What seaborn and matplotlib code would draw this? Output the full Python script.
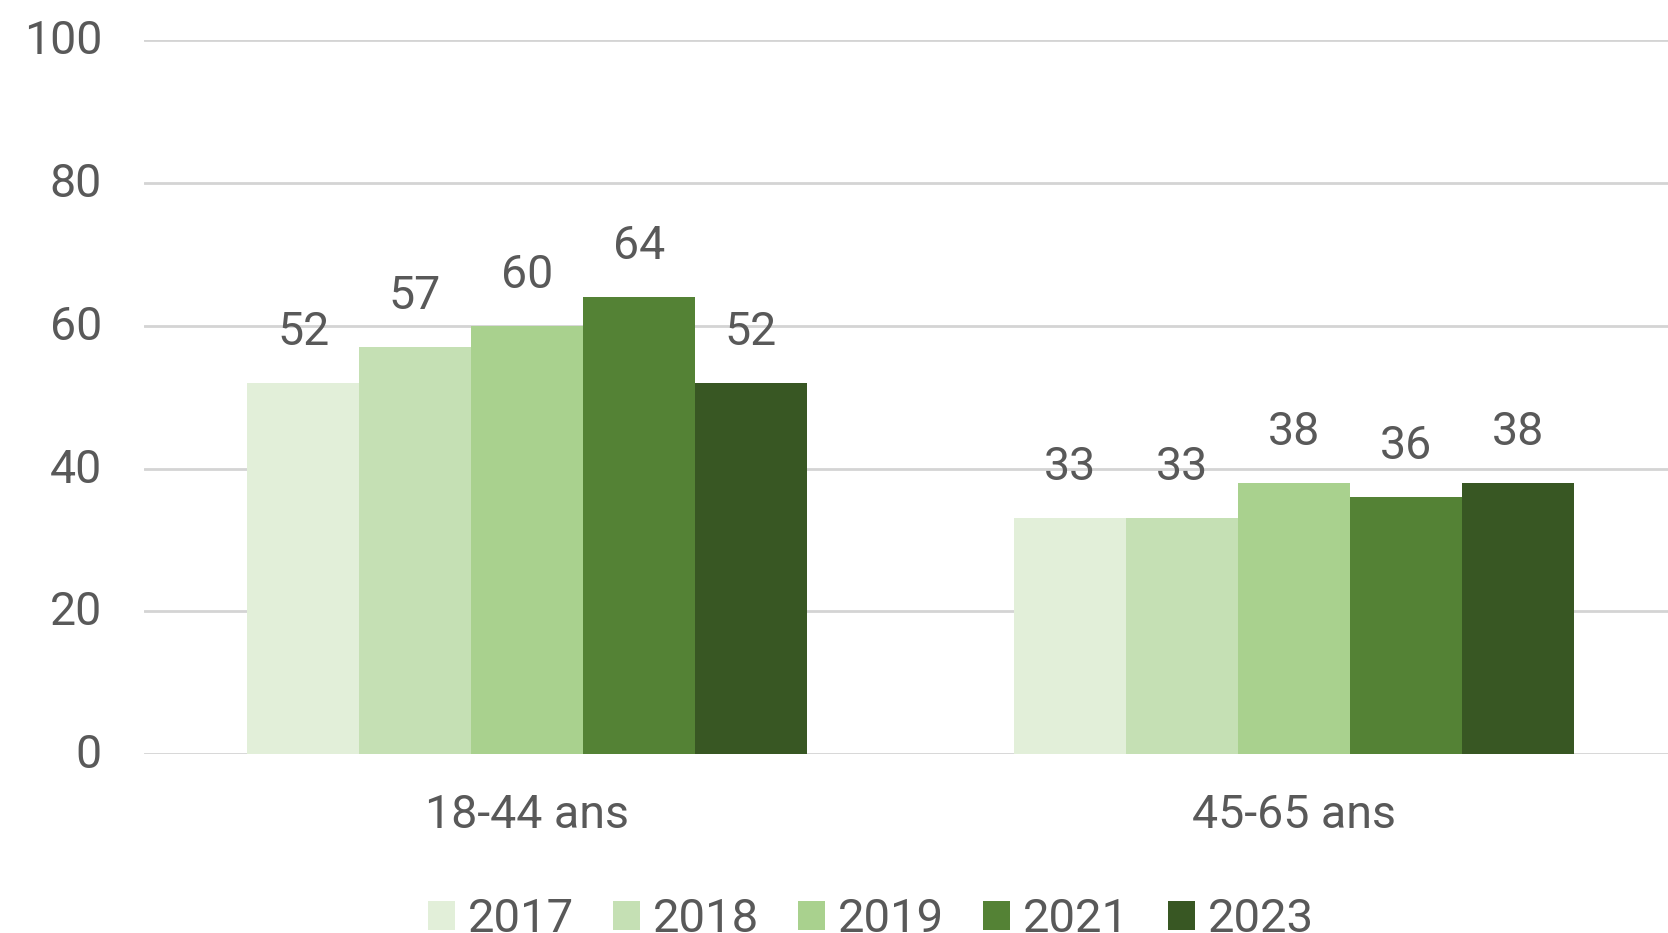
import matplotlib
matplotlib.use("Agg")
import matplotlib.pyplot as plt
import matplotlib.transforms as mtransforms
import seaborn as sns
import pandas as pd

groups = ["18-44 ans", "45-65 ans"]
years = ["2017", "2018", "2019", "2021", "2023"]
values_1844 = [52, 57, 60, 64, 52]
values_4565 = [33, 33, 38, 36, 38]
colors = ["#E2EFD9", "#C5E0B4", "#A9D18E", "#548235", "#385723"]
yticks = [0, 20, 40, 60, 80, 100]

rows = []
for g, vals in zip(groups, [values_1844, values_4565]):
    for y, v in zip(years, vals):
        rows.append({"groupe": g, "annee": y, "valeur": v})
df = pd.DataFrame(rows)

sns.set_theme(style="white")
plt.rcParams["font.family"] = ["Roboto", "DejaVu Sans"]
txt = "#595959"
fs = 33.5

fig = plt.figure(figsize=(16.68, 9.33), dpi=100)
ax = fig.add_axes([0.0861, 0.1919, 0.9139, 0.7648])

sns.barplot(data=df, x="groupe", y="valeur", hue="annee", order=groups,
            hue_order=years, palette=colors, width=0.73, gap=0,
            saturation=1, linewidth=0, ax=ax, legend=True, errorbar=None)

ax.set_ylim(0, 100)
ax.set_xlim(-0.5, 1.488)
ax.set_yticks(yticks)
ax.set_yticklabels([str(t) for t in yticks])
ax.yaxis.grid(True, color="#D4D4D4", linewidth=2)
ax.set_axisbelow(True)
for s in ax.spines.values():
    s.set_visible(False)
ax.set_xlabel("")
ax.set_ylabel("")
ax.tick_params(axis="y", length=0, pad=30, labelsize=fs, labelcolor=txt)
ax.tick_params(axis="x", length=0, pad=28, labelsize=fs, labelcolor=txt)
shift = mtransforms.ScaledTranslation(0, 2.5 / 72, fig.dpi_scale_trans)
for lab in ax.get_yticklabels():
    lab.set_clip_on(False)
    lab.set_transform(lab.get_transform() + shift)

for cont in ax.containers:
    ax.bar_label(cont, labels=[f"{v:g}" for v in cont.datavalues],
                 padding=21, fontsize=fs, color=txt)

handles, labels = ax.get_legend_handles_labels()
ax.get_legend().remove()
fig.legend(handles, labels, loc="center", bbox_to_anchor=(0.522, 0.015),
           ncol=5, frameon=False, fontsize=34, labelcolor=txt,
           handlelength=0.57, handleheight=0.57, handletextpad=0.27,
           columnspacing=0.83, borderaxespad=0)

fig.savefig("out.png", dpi=100)
